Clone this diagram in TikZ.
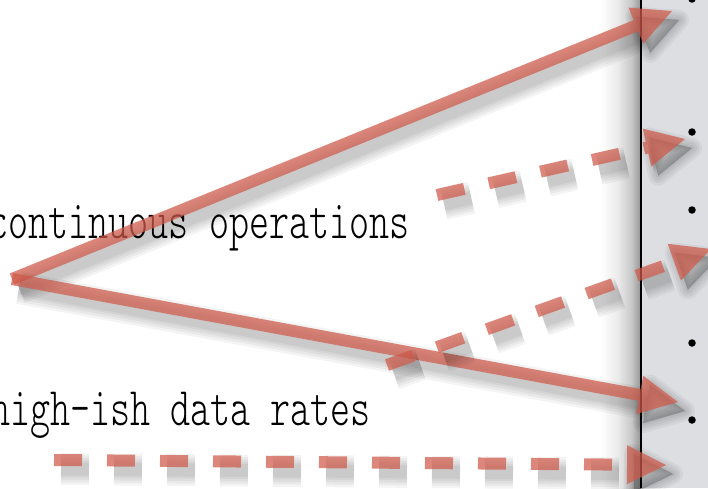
\documentclass[tikz,border=0pt]{standalone}
\usepackage{fontspec}
\newfontfamily\lightmono{lmmonolt10-regular.otf}
\usetikzlibrary{calc}
\definecolor{panelgray}{RGB}{221,222,225}
\definecolor{arrowred}{RGB}{208,90,74}
\pgfdeclarehorizontalshading{edgeshade}{100bp}{color(0bp)=(white); color(25bp)=(white); color(40bp)=(white); color(55bp)=(black!8); color(67bp)=(black!22); color(75bp)=(black!42); color(100bp)=(black!42)}
\tikzset{
  arrowbody/.style={arrowred, opacity=0.72},
  shadowlayer/.style={black, opacity=0.045},
  dashpat/.style={dash pattern=on 28pt off 25pt},
  solidpat/.style={},
  bulletdot/.style={circle, fill=black, inner sep=0pt, minimum size=7.5pt},
  textlabel/.style={anchor=base west, inner sep=0pt, font=\fontsize{54.5}{60}\selectfont\lightmono},
}
\newcommand\mkarrow[3]{%
  \coordinate (#2-b) at ($(#2)!39pt!(#1)$);
  \coordinate (#2-l) at ($(#2-b)!19.5pt!90:(#2)$);
  \coordinate (#2-r) at ($(#2-b)!19.5pt!-90:(#2)$);
  \begin{scope}[transform canvas={shift={(7,9)}}]
    \foreach \w in {20,15,10,5,1}{
      \draw[shadowlayer, #3, line width=12pt+\w pt] (#1) -- (#2-b);
      \filldraw[shadowlayer, line width=\w pt, line join=round] (#2) -- (#2-l) -- (#2-r) -- cycle;
    }
  \end{scope}
  \draw[arrowbody, #3, line width=12pt] (#1) -- (#2-b);
  \fill[arrowbody] (#2) -- (#2-l) -- (#2-r) -- cycle;
}
\begin{document}
\begin{tikzpicture}[x=1pt, y=-1pt]
  \useasboundingbox (0,0) rectangle (708,488);
  \clip (0,0) rectangle (708,488);
  \fill[white] (0,0) rectangle (708,488);
  % right panel
  \fill[panelgray] (641,0) rectangle (708,488);
  \shade[shading=edgeshade] (583,0) rectangle (641,488);
  \draw[black, line width=2pt] (641,0) -- (641,488);
  % bullets
  \node[bulletdot] (b0) at (692,-1) {};
  \node[bulletdot] (b1) at (692,132) {};
  \node[bulletdot] (b2) at (692,210) {};
  \node[bulletdot] (b3) at (692,343) {};
  \node[bulletdot] (b4) at (692,420) {};
  % texts
  \node[textlabel] (t1) at (-11.5,238) {\scalebox{0.70}[1]{continuous operations}};
  \node[textlabel] (t2) at (-10,425) {\scalebox{0.70}[1]{high-ish data rates}};
  % arrow end points
  \coordinate (s0) at (12,279);
  \coordinate (ta) at (672,11);
  \coordinate (tb) at (678,402);
  \coordinate (sc) at (437,195);
  \coordinate (tc) at (685,139);
  \coordinate (sd) at (387,365);
  \coordinate (td) at (711,249);
  \coordinate (se) at (54,460);
  \coordinate (te) at (666,465);
  % arrows
  \mkarrow{s0}{ta}{solidpat}
  \mkarrow{s0}{tb}{solidpat}
  \mkarrow{sc}{tc}{dashpat}
  \mkarrow{sd}{td}{dashpat}
  \mkarrow{se}{te}{dashpat}
\end{tikzpicture}
\end{document}
